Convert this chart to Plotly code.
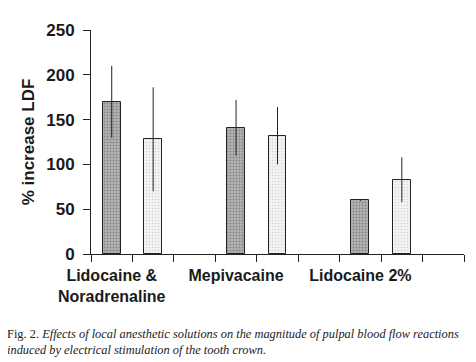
import plotly.graph_objects as go

# ---- data ----
groups = ["Lidocaine &<br>Noradrenaline", "Mepivacaine", "Lidocaine 2%"]
series_a = [170, 141, 60]      # dark stippled bars
series_a_err = [40, 31, 1]
series_b = [128, 132, 83]      # light stippled bars
series_b_err = [58, 32, 25]
y_ticks = [0, 50, 100, 150, 200, 250]
caption_lines = [
    "Fig. 2. <i>Effects of local anesthetic solutions on the magnitude of pulpal blood flow reactions</i>",
    "<i>induced by electrical stimulation of the tooth crown.</i>",
]

slots_per_group = 3  # bar A, bar B, empty slot
xa = [slots_per_group * i for i in range(len(groups))]
xb = [slots_per_group * i + 1 for i in range(len(groups))]
n_slots = slots_per_group * len(groups) - 1

font_bold = "Liberation Sans, Arial, sans-serif"

fig = go.Figure()
fig.add_trace(go.Bar(
    x=xa, y=series_a, width=0.43,
    marker=dict(color="#b4b4b4", line=dict(color="#222", width=1),
                pattern=dict(shape=".", fgcolor="#555555", size=3, solidity=0.35)),
    error_y=dict(type="data", array=series_a_err, visible=True,
                 color="#222", thickness=1, width=0),
    showlegend=False,
))
fig.add_trace(go.Bar(
    x=xb, y=series_b, width=0.43,
    marker=dict(color="#f3f3f3", line=dict(color="#222", width=1),
                pattern=dict(shape=".", fgcolor="#b0b0b0", size=3, solidity=0.2)),
    error_y=dict(type="data", array=series_b_err, visible=True,
                 color="#222", thickness=1, width=0),
    showlegend=False,
))

fig.update_layout(
    width=476, height=362,
    margin=dict(l=83, r=20, t=22, b=116),
    paper_bgcolor="white", plot_bgcolor="white",
    font=dict(family=font_bold, color="#1a1a1a"),
    bargap=0,
)
fig.update_xaxes(
    range=[-0.5, n_slots + 0.5],
    tickmode="array", tickvals=xa, ticktext=groups,
    ticks="outside", ticklen=0, tickcolor="rgba(0,0,0,0)",
    showgrid=False, zeroline=False,
    showline=True, linecolor="#222", linewidth=1,
    tickfont=dict(size=16, family=font_bold, color="#1a1a1a", weight="bold"),
    minor=dict(ticks="outside", tickmode="linear", tick0=-0.5, dtick=1, ticklen=7,
               tickcolor="#222", tickwidth=1, showgrid=False),
    ticklabelstandoff=7,
)
fig.update_yaxes(
    range=[0, 250], tickmode="array", tickvals=y_ticks,
    ticks="outside", ticklen=7, tickcolor="#222", tickwidth=1,
    showgrid=False, zeroline=False,
    showline=True, linecolor="#222", linewidth=1,
    tickfont=dict(size=17, family=font_bold, color="#1a1a1a", weight="bold"),
    ticklabelstandoff=5,
    title=dict(text="% increase LDF", standoff=7,
               font=dict(size=17, family=font_bold, color="#1a1a1a", weight="bold")),
)

fig.add_annotation(
    xref="paper", yref="paper",
    x=(-3 - 83) / 373, y=-(317 - 246) / 224,
    xanchor="left", yanchor="top", align="left", showarrow=False,
    text="<br>".join(caption_lines),
    font=dict(family="Liberation Serif, Times New Roman, serif", size=12.4, color="#222"),
)

fig.write_html("out.html")
